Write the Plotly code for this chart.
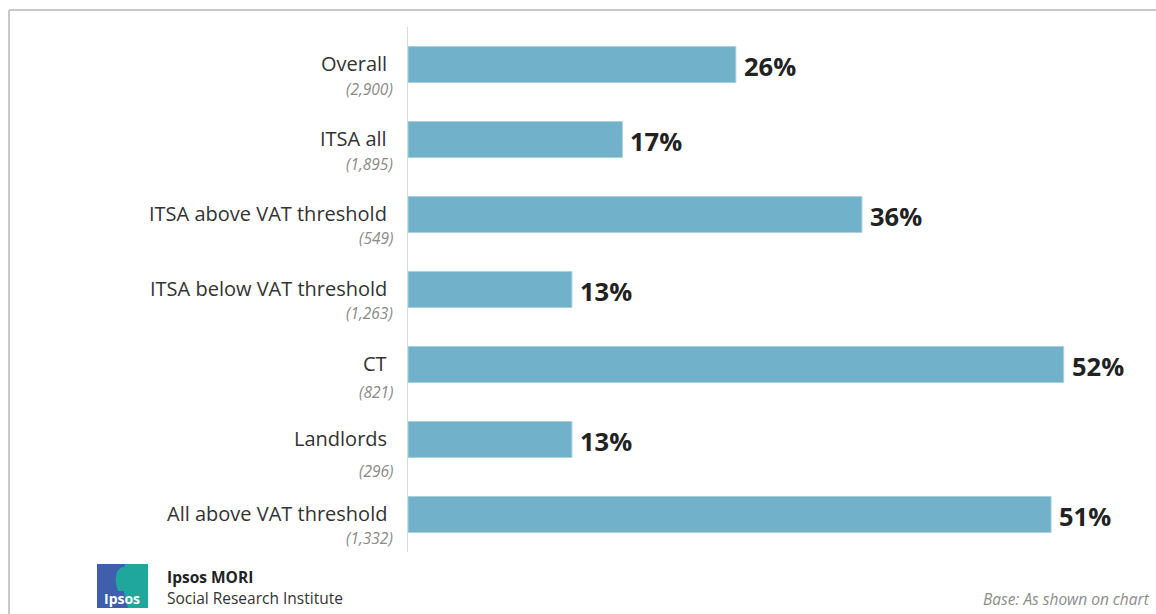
import plotly.graph_objects as go

# Survey groups, share answering yes, and base sizes
groups = ["Overall", "ITSA all", "ITSA above VAT threshold", "ITSA below VAT threshold",
          "CT", "Landlords", "All above VAT threshold"]
shares = [26, 17, 36, 13, 52, 13, 51]
bases = ["(2,900)", "(1,895)", "(549)", "(1,263)", "(821)", "(296)", "(1,332)"]

# vertical pixel offset of each base label below its group name
base_gap = [24, 24, 23, 23, 27, 31, 23]

BAR = "#71B1C9"
FONT = "Open Sans, Noto Sans, sans-serif"

W, H = 1156, 614
L, R, T, B = 408, 28, 27, 62

# figure pixels -> paper coordinates (paper spans the plot area)
def px(x): return (x - L) / (W - L - R)
def py(y): return (H - B - y) / (H - T - B)

fig = go.Figure()
fig.add_trace(go.Bar(
    y=groups, x=shares, orientation="h",
    marker=dict(color=BAR, line=dict(color="#A9D0DE", width=1)),
    width=0.48,
    hoverinfo="skip",
))

annotations = []
for g, v, b, gap in zip(groups, shares, bases, base_gap):
    annotations.append(dict(
        x=v, y=g, xref="x", yref="y", text=f"<b>{v}%</b>", showarrow=False,
        xanchor="left", yanchor="middle", xshift=6, yshift=-1,
        font=dict(family=FONT, size=25.5, color="#222222")))
    annotations.append(dict(
        x=0, y=g, xref="x", yref="y", text=g, showarrow=False,
        xanchor="right", yanchor="middle", xshift=-19, yshift=1,
        font=dict(family=FONT, size=20, color="#333333")))
    annotations.append(dict(
        x=0, y=g, xref="x", yref="y", text=f"<i>{b}</i>", showarrow=False,
        xanchor="right", yanchor="middle", xshift=-13, yshift=-gap,
        font=dict(family=FONT, size=15.5, color="#8a8a8a")))

annotations += [
    dict(x=px(165), y=py(577), xref="paper", yref="paper", text="<b>Ipsos MORI</b>",
         showarrow=False, xanchor="left", yanchor="middle",
         font=dict(family=FONT, size=15.5, color="#222222")),
    dict(x=px(165), y=py(598), xref="paper", yref="paper", text="Social Research Institute",
         showarrow=False, xanchor="left", yanchor="middle",
         font=dict(family=FONT, size=15.5, color="#333333")),
    dict(x=px(122), y=py(598), xref="paper", yref="paper", text="<b>Ipsos</b>",
         showarrow=False, xanchor="center", yanchor="middle",
         font=dict(family=FONT, size=14, color="#ffffff")),
    dict(x=px(1152), y=py(599), xref="paper", yref="paper", text="<i>Base: As shown on chart</i>",
         showarrow=False, xanchor="right", yanchor="middle",
         font=dict(family=FONT, size=15.5, color="#8c8c8c")),
]

shapes = [
    # outer frame
    dict(type="line", xref="paper", yref="paper", x0=px(9), x1=px(1160), y0=py(10), y1=py(10),
         line=dict(color="#c8c8c8", width=2)),
    dict(type="line", xref="paper", yref="paper", x0=px(9), x1=px(9), y0=py(10), y1=py(620),
         line=dict(color="#c8c8c8", width=2)),
    # logo
    dict(type="rect", xref="paper", yref="paper", x0=px(97), x1=px(148), y0=py(564), y1=py(608),
         fillcolor="#3F5FAE", line=dict(width=0), layer="above"),
    dict(type="path", xref="paper", yref="paper",
         path=f"M {px(125)} {py(564)} L {px(148)} {py(564)} L {px(148)} {py(608)} "
              f"L {px(128)} {py(608)} Q {px(120)} {py(586)} {px(125)} {py(564)} Z",
         fillcolor="#1FA79C", line=dict(width=0), layer="above"),
    dict(type="path", xref="paper", yref="paper",
         path=f"M {px(118)} {py(591)} Q {px(114)} {py(580)} {px(117)} {py(572)} "
              f"Q {px(122)} {py(564)} {px(129)} {py(569)} Q {px(132)} {py(575)} {px(129)} {py(582)} "
              f"L {px(127)} {py(591)} Z",
         fillcolor="#1FA79C", line=dict(width=0), layer="above"),
]

fig.update_layout(
    width=W, height=H,
    margin=dict(l=L, r=R, t=T, b=B),
    paper_bgcolor="white", plot_bgcolor="white",
    showlegend=False,
    xaxis=dict(range=[0, 57.1], visible=False, fixedrange=True),
    yaxis=dict(categoryorder="array", categoryarray=groups[::-1],
               showticklabels=False, ticks="", showgrid=False,
               showline=True, linecolor="#d9d9d9", linewidth=1, zeroline=False),
    annotations=annotations,
    shapes=shapes,
    font=dict(family=FONT),
)

fig.write_html("out.html")
